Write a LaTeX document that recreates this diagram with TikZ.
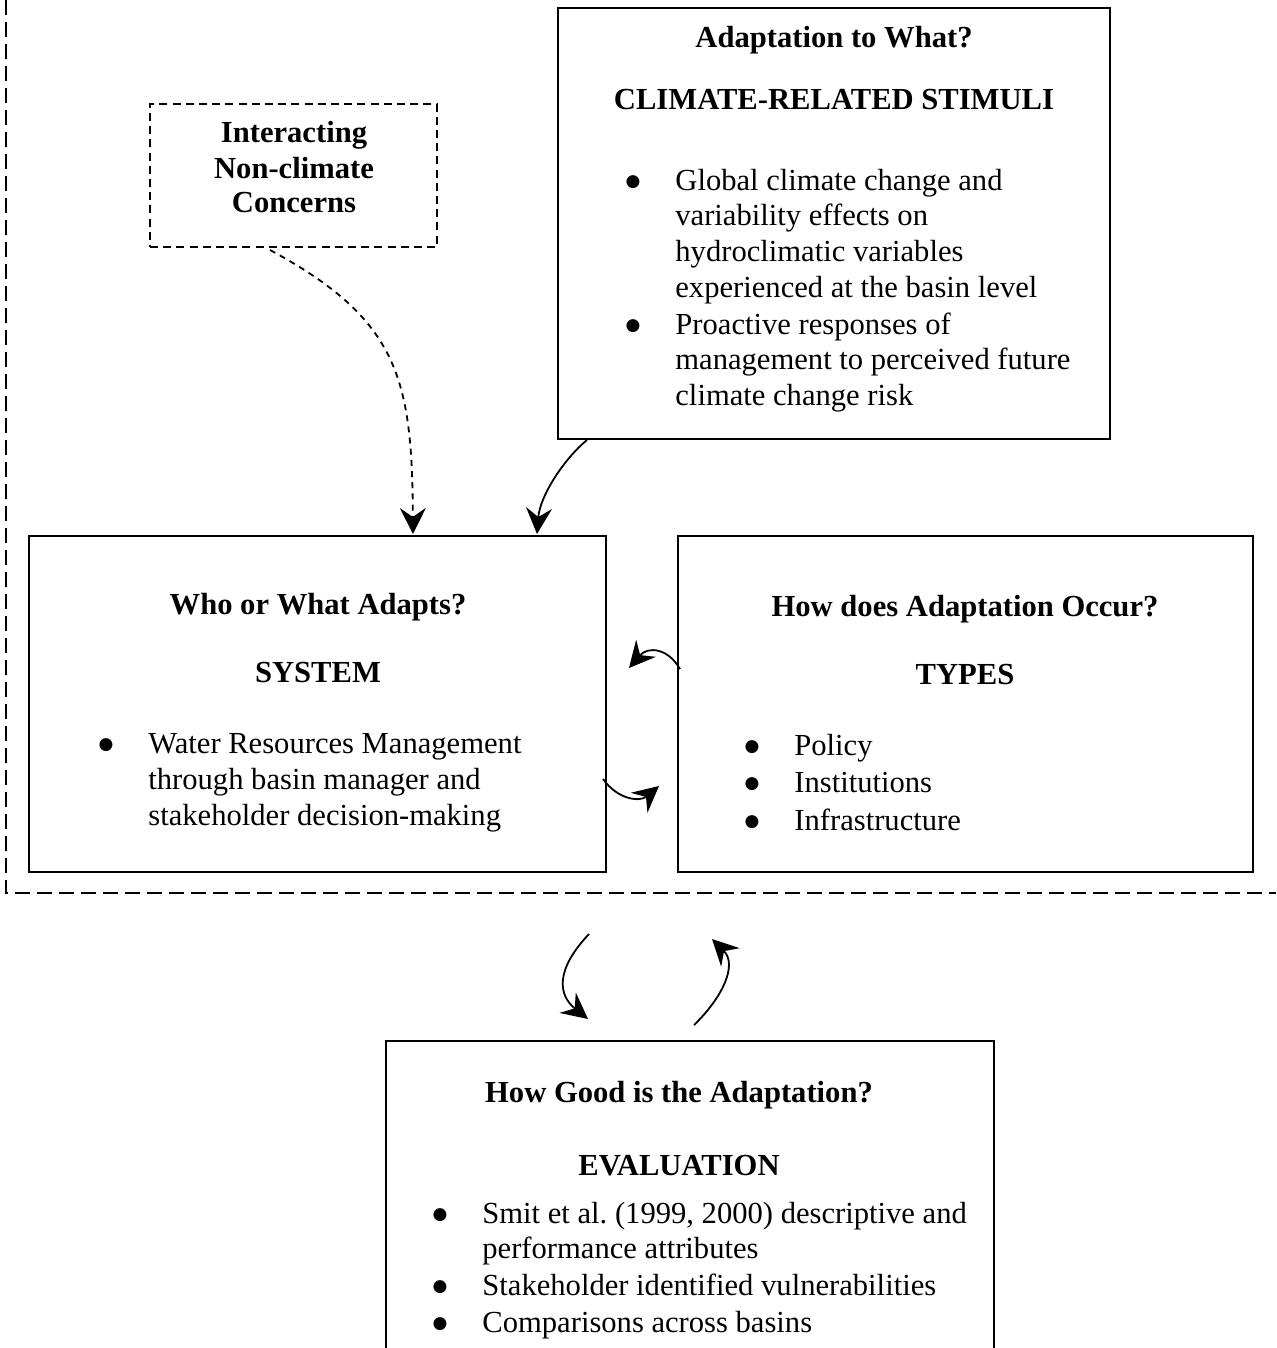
\documentclass[tikz,border=0pt]{standalone}
\usepackage{fontspec}
\setmainfont{Liberation Serif}
\newfontfamily\bulfont{DejaVu Sans}
\usetikzlibrary{arrows.meta}
\tikzset{
  box/.style={draw, line width=1pt, inner sep=0pt},
  ncbox/.style={draw, line width=0.8pt, inner sep=0pt, dash pattern=on 4pt off 2.6pt},
  outerline/.style={line width=1pt, dash pattern=on 7.5pt off 3.5pt},
  tx/.style={font=\fontsize{15.3}{18}\selectfont, inner sep=0pt},
  hd/.style={font=\fontsize{15.3}{18}\selectfont\bfseries, inner sep=0pt, anchor=base},
  ln/.style={tx, anchor=base west},
  bl/.style={font=\bulfont\fontsize{8.5}{10}\selectfont, inner sep=0pt, anchor=base, yshift=2pt},
  arr/.style={line width=0.9pt, -{Stealth[length=13pt,width=13pt,inset=4.5pt]}},
  darr/.style={arr, dash pattern=on 3pt off 2.6pt}
}
\begin{document}
\begin{tikzpicture}[x=0.5pt,y=-0.5pt]
\clip (0,0) rectangle (1276,1348);
\fill[white] (0,0) rectangle (1276,1348);

% outer dashed region
\draw[outerline] (6,0) -- (6,893) -- (1276,893);

% boxes
\node[box, minimum width=276pt, minimum height=215.5pt] (stim) at (834,223.5) {};
\node[ncbox, minimum width=143.5pt, minimum height=71.5pt] (nc) at (293.5,175.5) {};
\node[box, minimum width=288.5pt, minimum height=168pt] (who) at (317.5,704) {};
\node[box, minimum width=287.5pt, minimum height=168pt] (how) at (965.5,704) {};
\node[box, minimum width=304pt, minimum height=160pt] (good) at (690,1201) {};

% stimuli text
\node[hd] (s1) at (834,48) {Adaptation to What?};
\node[hd] (s2) at (834,110) {CLIMATE-RELATED STIMULI};
\node[bl] (sb1) at (633,191) {●};
\node[bl] (sb2) at (633,334) {●};
\node[ln] (s3) at (675,191) {Global climate change and};
\node[ln] (s4) at (675,226) {variability effects on};
\node[ln] (s5) at (675,262) {hydroclimatic variables};
\node[ln] (s6) at (675,297) {experienced at the basin level};
\node[ln] (s7) at (675,334) {Proactive responses of};
\node[ln] (s8) at (675,369) {management to perceived future};
\node[ln] (s9) at (675,405) {climate change risk};

% interacting text
\node[hd] (n1) at (294,143) {Interacting};
\node[hd] (n2) at (294,179) {Non-climate};
\node[hd] (n3) at (294,213) {Concerns};

% who text
\node[hd] (w1) at (318,614) {Who or What Adapts?};
\node[hd] (w2) at (318,682) {SYSTEM};
\node[bl] (wb1) at (106,753) {●};
\node[ln] (w3) at (148,753) {Water Resources Management};
\node[ln] (w4) at (148,789) {through basin manager and};
\node[ln] (w5) at (148,825) {stakeholder decision-making};

% how text
\node[hd] (h1) at (965,616) {How does Adaptation Occur?};
\node[hd] (h2) at (965,684) {TYPES};
\node[bl] (hb1) at (752,755) {●};
\node[bl] (hb2) at (752,792) {●};
\node[bl] (hb3) at (752,830) {●};
\node[ln] (h3) at (794,755) {Policy};
\node[ln] (h4) at (794,792) {Institutions};
\node[ln] (h5) at (794,830) {Infrastructure};

% good text
\node[hd] (g1) at (679,1102) {How Good is the Adaptation?};
\node[hd] (g2) at (679,1175) {EVALUATION};
\node[bl] (gb1) at (440,1223) {●};
\node[bl] (gb2) at (440,1295) {●};
\node[bl] (gb3) at (440,1332) {●};
\node[ln] (g3) at (482,1223) {Smit et al.\ (1999, 2000) descriptive and};
\node[ln] (g4) at (482,1258) {performance attributes};
\node[ln] (g5) at (482,1295) {Stakeholder identified vulnerabilities};
\node[ln] (g6) at (482,1332) {Comparisons across basins};

% connector end points
\coordinate (ncout) at (270,250);
\coordinate (whoinA) at (413,534);
\coordinate (stimout) at (587,440);
\coordinate (whoinB) at (537,534);
\coordinate (howout) at (680,669);
\coordinate (whoinC) at (629,668);
\coordinate (whoout) at (603,779);
\coordinate (howin) at (659,786);
\coordinate (downstart) at (589,934);
\coordinate (goodin) at (588,1019);
\coordinate (goodout) at (694,1025);
\coordinate (upend) at (712,939);

% connectors
\draw[darr] (ncout) .. controls (400,320) and (412,380) .. (whoinA);
\draw[arr] (stimout) .. controls (565,458) and (540,495) .. (whoinB);
\draw[arr] (howout) .. controls (668,648) and (648,646) .. (whoinC);
\draw[arr] (whoout) .. controls (618,800) and (640,802) .. (howin);
\draw[arr] (downstart) .. controls (555,970) and (558,995) .. (goodin);
\draw[arr] (goodout) .. controls (722,998) and (738,965) .. (upend);
\end{tikzpicture}
\end{document}
